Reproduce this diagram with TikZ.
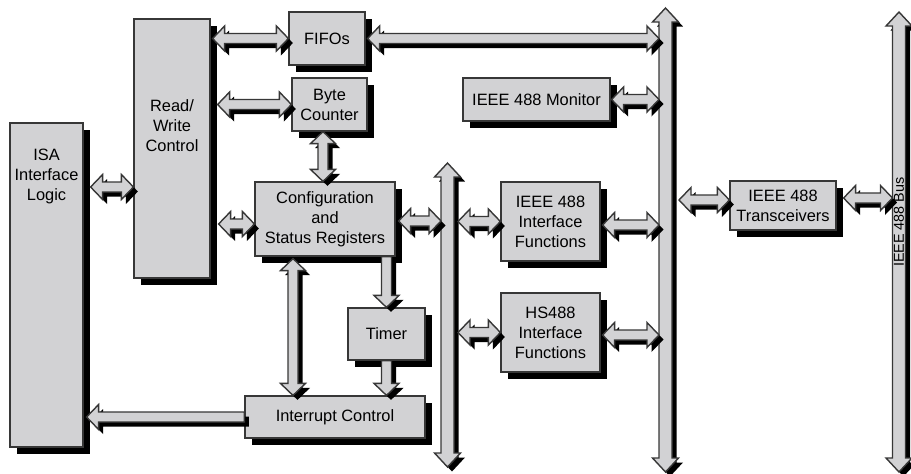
\documentclass[tikz,border=0pt]{standalone}
\usepackage{fontspec}
\setmainfont{Liberation Sans}
\usepackage{tikz}
\usetikzlibrary{calc,shadows}

\definecolor{boxgray}{RGB}{210,210,212}
\definecolor{edgegray}{RGB}{55,55,55}
\newcommand{\shaftw}{2.5pt}
\newcommand{\headw}{6.25pt}
\newcommand{\headl}{6pt}

\tikzset{
  blk/.style={draw=edgegray, line width=0.6pt, fill=boxgray, align=center, inner sep=2pt,
    drop shadow={shadow xshift=3.25pt, shadow yshift=-3.25pt, fill=black, opacity=1}},
  fat/.style={draw=edgegray, line width=0.7pt, fill=boxgray, line join=miter,
    preaction={fill=black, transform canvas={shift={(2.25pt,-2.25pt)}}}},
  bus/.code={\def\shaftw{3.25pt}\def\headw{6.5pt}\def\headl{7pt}},
  fat both/.style={fat, to path={
    let \p1=(\tikztostart), \p2=(\tikztotarget), \n1={sign(\x2-\x1)} in
    (\x1,\y1) -- (\x1+\n1*\headl,\y1+\headw) -- (\x1+\n1*\headl,\y1+\shaftw)
    -- (\x2-\n1*\headl,\y1+\shaftw) -- (\x2-\n1*\headl,\y1+\headw) -- (\x2,\y1)
    -- (\x2-\n1*\headl,\y1-\headw) -- (\x2-\n1*\headl,\y1-\shaftw)
    -- (\x1+\n1*\headl,\y1-\shaftw) -- (\x1+\n1*\headl,\y1-\headw) -- cycle}},
  fat both v/.style={fat, to path={
    let \p1=(\tikztostart), \p2=(\tikztotarget), \n1={sign(\y2-\y1)} in
    (\x1,\y1) -- (\x1+\headw,\y1+\n1*\headl) -- (\x1+\shaftw,\y1+\n1*\headl)
    -- (\x1+\shaftw,\y2-\n1*\headl) -- (\x1+\headw,\y2-\n1*\headl) -- (\x1,\y2)
    -- (\x1-\headw,\y2-\n1*\headl) -- (\x1-\shaftw,\y2-\n1*\headl)
    -- (\x1-\shaftw,\y1+\n1*\headl) -- (\x1-\headw,\y1+\n1*\headl) -- cycle}},
  fat one/.style={fat, to path={
    let \p1=(\tikztostart), \p2=(\tikztotarget), \n1={sign(\x2-\x1)} in
    (\x1,\y1+\shaftw) -- (\x2-\n1*\headl,\y1+\shaftw) -- (\x2-\n1*\headl,\y1+\headw)
    -- (\x2,\y1) -- (\x2-\n1*\headl,\y1-\headw) -- (\x2-\n1*\headl,\y1-\shaftw)
    -- (\x1,\y1-\shaftw) -- cycle}},
  fat one v/.style={fat, to path={
    let \p1=(\tikztostart), \p2=(\tikztotarget), \n1={sign(\y2-\y1)} in
    (\x1+\shaftw,\y1) -- (\x1+\shaftw,\y2-\n1*\headl) -- (\x1+\headw,\y2-\n1*\headl)
    -- (\x1,\y2) -- (\x1-\headw,\y2-\n1*\headl) -- (\x1-\shaftw,\y2-\n1*\headl)
    -- (\x1-\shaftw,\y1) -- cycle}},
}

\begin{document}
\begin{tikzpicture}[x=0.5pt,y=-0.5pt,font=\fontsize{8.2}{10}\selectfont]
\useasboundingbox (0,0) rectangle (911,473);

\node[blk, minimum width=36.5pt, minimum height=162pt,
  label={[anchor=north, inner sep=0pt, yshift=-13pt, align=center]north:ISA\\Interface\\Logic}] (isa) at (46.5,285) {};
\node[blk, minimum width=38pt, minimum height=129.5pt,
  label={[anchor=north, inner sep=0pt, yshift=-40.5pt, align=center]north:Read/\\Write\\Control}] (rw) at (172,148.5) {};
\node[blk, minimum width=38pt, minimum height=26.5pt] (fifo) at (327,38.5) {FIFOs};
\node[blk, minimum width=37.5pt, minimum height=26.5pt] (byte) at (329.5,104.5) {Byte\\Counter};
\node[blk, minimum width=70pt, minimum height=37pt] (cfg) at (325,219) {Configuration\\and\\Status Registers};
\node[blk, minimum width=38.5pt, minimum height=26pt] (timer) at (386.5,334) {Timer};
\node[blk, minimum width=90pt, minimum height=21pt] (intr) at (335,417) {Interrupt Control};
\node[blk, minimum width=73.5pt, minimum height=21.5pt] (mon) at (536.5,99.5) {IEEE 488 Monitor};
\node[blk, minimum width=49.5pt, minimum height=39.5pt] (ieeeif) at (550.5,221.5) {IEEE 488\\Interface\\Functions};
\node[blk, minimum width=49.5pt, minimum height=39.5pt] (hsif) at (550.5,332.5) {HS488\\Interface\\Functions};
\node[blk, minimum width=53pt, minimum height=24.5pt] (xcvr) at (783,205.5) {IEEE 488\\Transceivers};

\coordinate (b1n) at (447.5,163);
\coordinate (b1s) at (447.5,467);
\coordinate (b2n) at (665.5,8);
\coordinate (b2s) at (665.5,472);
\coordinate (b3n) at (899,12);
\coordinate (b3s) at (899,472);
\draw[fat both v, bus] (b1s) to (b1n);
\draw[fat both v, bus] (b2s) to (b2n);
\draw[fat both v, bus] (b3s) to (b3n);
\node[rotate=90, font=\fontsize{7.2}{8}\selectfont] (buslbl) at (899,222) {IEEE 488 Bus};

\draw[fat both] ([xshift=3.5pt]isa.east |- 0,187) to (rw.west |- 0,187);
\draw[fat both] ([xshift=1pt]rw.east |- fifo.west) to (fifo.west);
\draw[fat both] ([xshift=3.5pt]rw.east |- byte.west) to (byte.west);
\draw[fat both] ([xshift=4pt]rw.east |- 0,224) to (cfg.west |- 0,224);
\draw[fat both] ([xshift=1pt]fifo.east) to ([xshift=-3.25pt]b2n |- fifo.east);
\draw[fat both v] ([xshift=-3.25pt]byte.south) to ([xshift=-3.25pt]byte.south |- cfg.north);
\draw[fat both] ([xshift=1.5pt]cfg.east |- 0,221) to ([xshift=-3.25pt]b1n |- 0,221);
\draw[fat both v] ([yshift=-1pt]cfg.south -| 293,0) to (intr.north -| 293,0);
\draw[fat one v] (cfg.south -| timer.north) to (timer.north);
\draw[fat one v] (timer.south) to (timer.south |- intr.north);
\draw[fat one] (intr.west) to ([xshift=1.5pt]isa.east |- intr.west);
\draw[fat both] ([xshift=5.25pt]b1n |- ieeeif.west) to (ieeeif.west);
\draw[fat both] ([xshift=1pt]ieeeif.east |- 0,225) to ([xshift=-3.25pt]b2n |- 0,225);
\draw[fat both] ([xshift=5.25pt]b1n |- hsif.west) to (hsif.west);
\draw[fat both] ([xshift=1pt]hsif.east |- 0,335) to ([xshift=-3.25pt]b2n |- 0,335);
\draw[fat both] ([xshift=0.5pt]mon.east) to ([xshift=-3.25pt]b2n |- mon.east);
\draw[fat both] ([xshift=6.75pt]b2n |- 0,200) to (xcvr.west |- 0,200);
\draw[fat both] ([xshift=3.5pt]xcvr.east |- 0,198) to ([xshift=-3.25pt]b3n |- 0,198);
\end{tikzpicture}
\end{document}
